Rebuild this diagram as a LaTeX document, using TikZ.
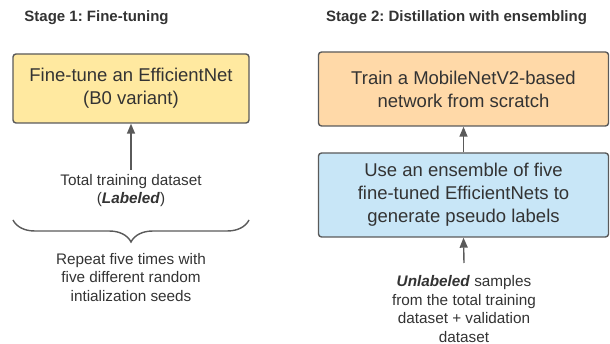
\documentclass[tikz,border=0pt]{standalone}
\usepackage{fontspec}
\setmainfont{Liberation Sans}
\usetikzlibrary{arrows.meta,decorations.pathreplacing}
\frenchspacing
\definecolor{txtgray}{HTML}{333333}
\definecolor{linegray}{HTML}{5A5A5A}
\definecolor{boxyellow}{HTML}{FFE9A0}
\definecolor{boxorange}{HTML}{FFD9A8}
\definecolor{boxblue}{HTML}{C8E6F7}
\tikzset{
	stagebox/.style={draw=linegray, line width=1.4pt, rounded corners=3pt, text=txtgray, align=center, font=\fontsize{18.5}{22.8}\selectfont, inner sep=0pt},
	lbl/.style={text=txtgray, align=center, font=\fontsize{15.3}{18.5}\selectfont},
	ttl/.style={text=txtgray, font=\fontsize{15}{17}\selectfont\bfseries},
	feed/.style={draw=linegray, line width=1.4pt, -{Triangle[width=8pt,length=10pt]}},
}

\begin{document}
\begin{tikzpicture}[x=1pt, y=-1pt]
			%%%%% START %%%%%
			
			\useasboundingbox (0, 0) rectangle (610, 344);
			
			% stage 1
			\node[ttl] (stageone) at (96.5, 18) {Stage 1: Fine-tuning};
			\node[stagebox, fill=boxyellow, minimum width=236pt, minimum height=69pt] (finetune) at (131, 88.5) {Fine-tune an EfficientNet\\(B0 variant)};
			\node[lbl] (totaldata) at (131, 190.5) {Total training dataset\\(\textbf{\textit{Labeled}})};
			\coordinate (totaltop) at (131, 170);
			\draw[feed] (totaltop) -- (finetune.south);
			
			\coordinate (braceL) at (13, 220);
			\coordinate (braceR) at (249, 220);
			\draw[linegray, line width=1.4pt, decorate, decoration={brace, mirror, amplitude=22pt}] (braceL) -- (braceR);
			\node[lbl] (repeatlbl) at (131, 277.5) {Repeat five times with\\five different random\\intialization seeds};
			
			% stage 2
			\node[ttl] (stagetwo) at (456.5, 18) {Stage 2: Distillation with ensembling};
			\node[stagebox, fill=boxorange, minimum width=290pt, minimum height=74pt] (trainmob) at (463.5, 89) {Train a MobileNetV2-based\\network from scratch};
			\node[stagebox, fill=boxblue, minimum width=290pt, minimum height=84pt] (ensemble) at (463.5, 195) {Use an ensemble of five\\fine-tuned EfficientNets to\\generate pseudo labels};
			\draw[feed] (ensemble.north) -- (trainmob.south);
			
			\node[lbl] (unlabeled) at (464, 309) {\textbf{\textit{Unlabeled}} samples\\from the total training\\dataset + validation\\dataset};
			\coordinate (unlabtop) at (464, 263);
			\draw[feed] (unlabtop) -- (ensemble.south);
			
			%%%%% END %%%%%
		\end{tikzpicture}
\end{document}
